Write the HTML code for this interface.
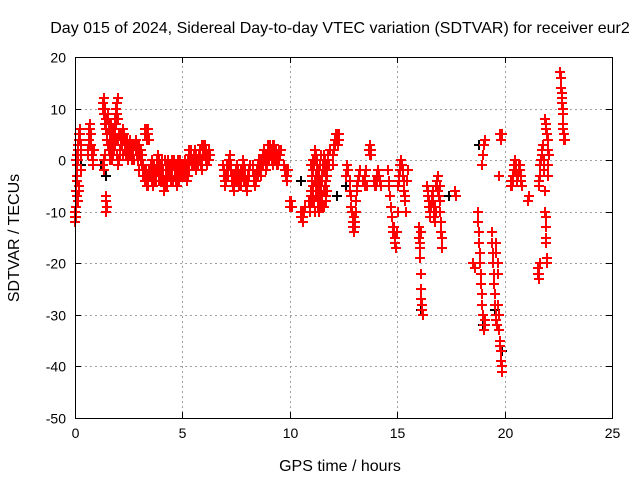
<!DOCTYPE html>
<html><head><meta charset="utf-8"><style>
html,body{margin:0;padding:0;background:#fff;}
svg{display:block;font-family:"Liberation Sans",sans-serif;}
</style></head><body>
<svg id="chart" width="640" height="480" viewBox="0 0 640 480" xmlns="http://www.w3.org/2000/svg">
<text x="340" y="33" font-size="16" text-anchor="middle">Day 015 of 2024, Sidereal Day-to-day VTEC variation (SDTVAR) for receiver eur2</text>
<text x="340" y="471" font-size="16" text-anchor="middle">GPS time / hours</text>
<text transform="translate(19,238) rotate(-90)" font-size="16" text-anchor="middle">SDTVAR / TECUs</text>
<g id="grid"></g>
<g id="ticks"></g>
<g id="black-series"></g>
<g id="red-series"></g>
<rect x="75.5" y="57.5" width="537" height="361" fill="none" stroke="#000" stroke-width="1" shape-rendering="crispEdges"/>
</svg>
<script>
const xTicks=[0,5,10,15,20,25];
const yTicks=[20,10,0,-10,-20,-30,-40,-50];
const redPoints=[
[0.0,-10],[0.02,-12],[0.04,-11],[0.06,-9],[0.08,-7],[0.1,-4],[0.06,0],[0.08,1],[0.12,0],[0.14,2],[0.16,3],[0.18,4],[0.2,5],[0.22,6],[0.25,5],[0.27,3],[0.29,1],[0.3,-2],[0.2,-6],[0.15,-8],
[0.6,2],[0.63,4],[0.66,6],[0.7,7],[0.73,5],[0.76,3],[0.8,1],[0.84,0],[0.88,2],
[1.3,11],[1.35,12],[1.4,10],[1.42,8],[1.45,6],[1.5,5],[1.3,-1],[1.35,-2],[1.45,-8],[1.48,-9],[1.42,-7],[1.55,9],[1.6,7],[1.65,5],[1.7,4],[1.75,3],[1.8,6],[1.85,8],[1.9,10],[1.95,11],[2.0,12],[1.9,4],[1.95,1],[2.0,-1],[2.05,0],[2.1,2],[1.6,2],[1.7,0],[2.15,5],[2.2,3],
[2.25,6],[2.3,5],[2.35,4],[2.4,2],[2.45,0],[2.5,3],[2.55,4],[2.6,1],[2.65,3],[2.7,2],[2.75,0],
[2.85,4],[2.9,3],[2.95,1],[3.0,-2],[3.05,2],[3.1,-1],[3.15,-3],[3.25,6],[3.3,5],[3.35,5],[3.4,6],[3.45,4],[3.3,-3],[3.35,-5],[3.4,-4],[3.45,-2],
[3.55,-1],[3.6,-3],[3.65,-5],[3.7,-4],[3.75,-2],[3.8,0],[3.85,1],[3.9,-1],[3.95,-3],[4.0,-2],[4.05,0],[4.1,-4],[4.15,-6],[4.2,-5],[4.25,-3],[4.3,-1],[4.35,0],[4.4,-2],[4.45,-4],[4.5,-3],[4.55,-1],[4.6,0],[4.65,-2],[4.7,-4],[4.75,-5],[4.8,-3],[4.85,-1],[4.9,0],[4.95,-2],[5.0,-3],
[5.05,-1],[5.1,0],[5.15,-2],[5.2,-4],[5.25,-3],[5.3,-1],[5.35,1],[5.4,2],[5.45,0],[5.5,-1],[5.55,1],[5.6,0],[5.65,-2],[5.7,-1],[5.75,1],[5.8,2],[5.85,0],[5.9,-2],[5.95,1],[6.0,3],[6.05,2],[6.1,0],[6.15,-1],[6.2,1],[6.25,2],
[6.9,-1],[6.95,-3],[7.0,-5],[7.05,-4],[7.1,-2],[7.15,0],[7.2,1],[7.25,-1],[7.3,-3],[7.35,-5],[7.4,-6],[7.45,-4],[7.5,-2],[7.55,-1],[7.6,-3],[7.65,-5],[7.7,-4],[7.75,-2],[7.8,0],[7.85,-1],[7.9,-3],[7.95,-5],[8.0,-6],[8.05,-4],[8.1,-2],[8.15,-1],
[8.3,-2],[8.35,-4],[8.4,-5],[8.45,-3],[8.5,-1],[8.55,0],[8.6,-2],[8.65,-3],[8.7,-1],[8.75,1],[8.8,2],[8.85,0],[8.9,-2],[8.95,-1],[9.0,1],[9.05,2],[9.1,3],[9.15,1],[9.2,-1],[9.25,0],[9.3,2],[9.35,1],[9.4,-1],[9.45,0],[9.5,2],[9.55,1],
[9.75,-1],[9.8,-3],[9.85,-4],[9.9,-2],
[10.0,-8],[10.05,-9],[10.1,-9],[10.5,-10],[10.55,-11],[10.6,-12],[10.65,-10],[10.7,-9],
[10.9,-8],[10.95,-10],[11.0,-6],[11.05,-3],[11.1,0],[11.15,2],[11.2,1],[11.25,-2],[11.3,-5],[11.35,-8],[11.4,-9],[11.45,-6],[11.5,-3],[11.55,-1],[11.6,1],[11.65,-2],[11.7,-4],[11.1,-5],[11.2,-7],[11.3,-2],[11.4,-4],[11.5,-7],[11.6,-9],[11.7,-8],[11.75,-3],[11.8,0],[11.85,2],[11.0,-1],[11.25,0],[11.45,1],
[12.0,-1],[12.05,2],[12.1,4],[12.15,5],[12.2,5],[12.25,3],[12.3,4],
[12.6,-3],[12.65,-1],[12.7,-2],[12.8,-4],[12.85,-7],[12.9,-10],[12.95,-13],[13.0,-14],[13.05,-12],[13.1,-8],[13.15,-5],[13.2,-3],[13.25,-2],
[13.4,-4],[13.5,-3],[13.55,-2],[13.6,-5],[13.7,2],[13.75,3],[13.8,1],[13.9,-4],[14.0,-5],[14.05,-3],[14.1,-2],[14.2,-4],[14.25,-5],
[14.55,-2],[14.6,-5],[14.7,-9],[14.8,-13],[14.85,-14],[14.9,-15],[14.95,-17],[15.0,-14],[15.05,-5],[15.1,-3],[15.15,-1],[15.2,0],[15.25,-2],[15.3,-4],[15.35,-7],[15.4,-10],[15.45,-4],[15.5,-2],
[16.0,-13],[16.05,-16],[16.08,-19],[16.1,-22],[16.12,-25],[16.15,-28],[16.18,-30],[16.1,-14],
[16.4,-5],[16.45,-7],[16.5,-9],[16.55,-11],[16.6,-8],[16.65,-6],[16.7,-9],[16.75,-12],[16.8,-10],[16.85,-4],[16.9,-3],[16.95,-7],[17.0,-10],[17.05,-14],[17.1,-17],[17.0,-5],
[17.7,-6],[17.75,-7],
[18.55,-20],[18.6,-21],
[18.75,-10],[18.8,-14],[18.85,-18],[18.9,-22],[18.95,-26],[19.0,-30],[19.05,-33],[19.1,-31],[18.95,-1],[19.0,1],[19.05,3],[19.1,4],
[19.4,-14],[19.45,-18],[19.5,-22],[19.55,-26],[19.6,-30],[19.65,-32],[19.7,-28],[19.75,-33],[19.8,-36],[19.85,-39],[19.9,-41],[19.6,-16],[19.7,-20],[19.8,5],[19.85,4],[19.9,5],[19.75,-3],
[20.3,-4],[20.35,-5],[20.4,-3],[20.45,-1],[20.5,0],[20.55,-2],[20.6,-4],[20.65,-2],[20.7,-1],[20.75,-3],[20.8,-5],[21.1,-8],[21.15,-7],
[21.55,-22],[21.6,-23],[21.65,-20],[21.6,-5],[21.65,-3],[21.7,0],[21.75,2],[21.8,3],[21.85,-2],[21.9,-10],[21.92,-13],[21.95,-16],[21.98,-19],[21.9,8],[21.95,6],[22.0,4],[22.05,1],[22.0,-3],
[22.6,17],[22.62,16],[22.65,13],[22.68,11],[22.7,9],[22.72,6],[22.75,4],[22.78,5]
];
const redPointsDense=[
[0.0,-11],[0.03,-9],[0.05,-6],[0.07,-3],[0.1,-1],[0.13,1],[0.17,-5],[0.23,4],[0.26,2],
[0.62,1],[0.68,3],[0.72,6],[0.78,2],[0.82,-1],
[1.32,10],[1.37,9],[1.4,7],[1.47,4],[1.52,3],[1.57,6],[1.62,4],[1.67,2],[1.72,6],[1.77,5],[1.82,4],[1.87,6],[1.92,7],[1.97,9],[2.02,8],[2.07,5],[2.12,3],[1.52,8],[1.57,2],[1.62,0],[1.67,7],[1.72,3],[1.77,1],[1.82,2],[1.87,3],[1.5,-9],[1.46,-10],[1.36,0],[1.4,1],[2.02,4],[2.08,1],[2.17,4],[2.22,1],
[2.27,4],[2.32,2],[2.37,1],[2.42,4],[2.47,2],[2.52,1],[2.57,2],[2.62,3],[2.67,0],[2.72,1],[2.77,3],[2.82,2],[2.87,1],[2.92,0],[2.97,3],[3.02,1],[3.07,0],[3.12,1],[3.17,-1],[3.22,-2],[3.27,5],[3.32,6],[3.37,4],[3.42,5],[3.27,-4],[3.32,-2],[3.37,-3],[3.42,-5],[3.47,-3],
[3.52,-2],[3.57,-4],[3.62,-2],[3.67,-1],[3.72,-3],[3.77,-4],[3.82,-1],[3.87,-2],[3.92,0],[3.97,-1],[4.02,-4],[4.07,-3],[4.12,-2],[4.17,-4],[4.22,-2],[4.27,-5],[4.32,-3],[4.37,-1],[4.42,-3],[4.47,-1],[4.52,-2],[4.57,-4],[4.62,-1],[4.67,-3],[4.72,-1],[4.77,-2],[4.82,-4],[4.87,-2],[4.92,-3],[4.97,-1],[3.6,0],[3.9,-4],[4.2,0],[4.5,0],[4.8,0],
[5.02,-2],[5.07,-3],[5.12,-1],[5.17,-3],[5.22,-1],[5.27,0],[5.32,-2],[5.37,0],[5.42,1],[5.47,-1],[5.52,0],[5.57,-1],[5.62,1],[5.67,0],[5.72,-1],[5.77,0],[5.82,1],[5.87,-1],[5.92,0],[5.97,2],[6.02,1],[6.07,3],[6.12,2],[6.17,0],[6.22,0],[6.27,1],[5.3,2],[5.6,2],[5.9,3],
[6.92,-2],[6.97,-4],[7.02,-3],[7.07,-1],[7.12,-3],[7.17,-1],[7.22,0],[7.27,-2],[7.32,-4],[7.37,-3],[7.42,-5],[7.47,-3],[7.52,-4],[7.57,-2],[7.62,-4],[7.67,-3],[7.72,-5],[7.77,-3],[7.82,-2],[7.87,-4],[7.92,-2],[7.97,-4],[8.02,-5],[8.07,-3],[8.12,-3],
[8.27,-1],[8.32,-3],[8.37,-3],[8.42,-4],[8.47,-2],[8.52,-3],[8.57,-1],[8.62,-1],[8.67,0],[8.72,0],[8.77,-1],[8.82,1],[8.87,1],[8.92,0],[8.97,2],[9.02,0],[9.07,1],[9.12,2],[9.17,0],[9.22,1],[9.27,3],[9.32,0],[9.37,2],[9.42,1],[9.47,-1],[9.52,0],[9.57,2],[9.0,3],[9.2,3],
[9.77,-2],[9.82,-2],[9.87,-3],[10.02,-9],[10.07,-8],[10.52,-11],[10.57,-10],[10.62,-11],
[10.92,-9],[10.97,-7],[11.02,-4],[11.07,-2],[11.12,-1],[11.17,0],[11.22,-3],[11.27,-1],[11.32,-4],[11.37,-6],[11.42,-7],[11.47,-5],[11.52,-4],[11.57,-2],[11.62,0],[11.67,-1],[11.72,-6],[11.02,-8],[11.07,-6],[11.12,-8],[11.17,-4],[11.22,-5],[11.27,-7],[11.32,-9],[11.37,-3],[11.42,-1],[11.47,-8],[11.52,-9],[11.57,-6],[11.62,-5],[11.67,-7],[11.72,-2],[11.77,1],[11.82,-1],[11.15,-10],[11.35,-10],
[12.02,1],[12.07,3],[12.12,3],[12.17,4],[12.22,4],[12.27,5],
[12.82,-6],[12.87,-9],[12.92,-12],[12.97,-11],[13.02,-13],[13.07,-10],[13.12,-6],[13.17,-4],[13.45,-4],[13.52,-5],[13.72,1],[13.77,2],[13.95,-5],[14.02,-4],[14.07,-4],[14.15,-3],
[14.62,-4],[14.67,-7],[14.75,-11],[14.82,-14],[14.87,-13],[14.92,-16],[15.02,-10],[15.07,-4],[15.12,-2],[15.17,0],[15.22,-1],[15.27,-3],[15.32,-6],[15.37,-8],
[16.02,-15],[16.07,-17],[16.13,-27],[16.16,-29],[16.42,-6],[16.47,-8],[16.52,-10],[16.57,-9],[16.62,-7],[16.67,-8],[16.72,-11],[16.77,-9],[16.82,-5],[16.87,-4],[16.92,-6],[16.97,-8],[17.02,-12],[17.07,-15],
[18.77,-12],[18.82,-16],[18.87,-20],[18.92,-24],[18.97,-28],[19.02,-32],[19.07,-32],[19.42,-16],[19.47,-20],[19.52,-24],[19.57,-28],[19.62,-31],[19.72,-30],[19.77,-35],[19.82,-37],[19.87,-40],[19.62,-18],[19.67,-22],[19.82,4],[19.87,5],
[20.32,-5],[20.37,-4],[20.42,-2],[20.47,-1],[20.52,-1],[20.57,-3],[20.62,-3],[20.67,-1],[20.72,-2],[20.77,-4],
[21.57,-21],[21.62,-22],[21.62,-4],[21.67,-1],[21.72,1],[21.77,3],[21.82,0],[21.87,-6],[21.91,-11],[21.94,-15],[21.97,-20],[21.92,7],[21.97,5],[22.02,2],[22.03,-1],
[22.61,16],[22.64,14],[22.67,12],[22.7,10],[22.73,7],[22.76,5],[22.8,4]
];
const blackPoints=[[0.3,-1],[1.2,-1],[1.45,-3],[10.5,-4],[12.2,-7],[12.6,-5],[16.1,-29],[17.4,-7],[18.8,3],[19.0,-32],[19.55,-29],[19.9,-37],[21.7,0],[22.7,7]];

const X0=75,X1=612,Y0=418,Y1=57,XMIN=0,XMAX=25,YMIN=-50,YMAX=20;
const xs=v=>X0+(v-XMIN)/(XMAX-XMIN)*(X1-X0);
const ys=v=>Y0-(v-YMIN)/(YMAX-YMIN)*(Y0-Y1);
const NS="http://www.w3.org/2000/svg";
function mk(tag,attrs,parent){const e=document.createElementNS(NS,tag);for(const k in attrs)e.setAttribute(k,attrs[k]);parent.appendChild(e);return e;}
const grid=document.getElementById('grid'),ticks=document.getElementById('ticks');
xTicks.forEach(t=>{const x=Math.round(xs(t))+0.5;
 if(t>XMIN&&t<XMAX){const g=mk('line',{x1:x,x2:x,y1:Y0,y2:Y1,stroke:'#a0a0a0','stroke-dasharray':'2,3','shape-rendering':'crispEdges'},grid);
 
 }
 mk('line',{x1:x,x2:x,y1:Y0,y2:Y0-6,stroke:'#000','shape-rendering':'crispEdges'},ticks);mk('line',{x1:x,x2:x,y1:Y1,y2:Y1+6,stroke:'#000','shape-rendering':'crispEdges'},ticks);
 const l=mk('text',{x:x,y:Y0+20,'font-size':14,'text-anchor':'middle'},ticks);l.textContent=t;
 
 
});
yTicks.forEach(t=>{const y=Math.round(ys(t))+0.5;
 if(t>YMIN&&t<YMAX){const g=mk('line',{x1:X0,x2:X1,y1:y,y2:y,stroke:'#a0a0a0','stroke-dasharray':'2,3','shape-rendering':'crispEdges'},grid);
 
 }
 mk('line',{x1:X0,x2:X0+6,y1:y,y2:y,stroke:'#000','shape-rendering':'crispEdges'},ticks);mk('line',{x1:X1,x2:X1-6,y1:y,y2:y,stroke:'#000','shape-rendering':'crispEdges'},ticks);
 const l=mk('text',{x:X0-9,y:y+5,'font-size':14,'text-anchor':'end'},ticks);l.textContent=t;
 
 
});
function plus(arr,gid,color,name){const g=document.getElementById(gid);let d='';
 arr.forEach(p=>{const x=Math.round(xs(p[0])),y=Math.round(ys(p[1]));d+=`M${x-5},${y}h10M${x},${y-5}v10`;});
 const path=mk('path',{d:d,stroke:color,'stroke-width':2,fill:'none','shape-rendering':'crispEdges'},g);
 
 
}
plus(blackPoints,'black-series','#000','black-markers');
plus(redPoints,'red-series','#ff0000','red-markers');
plus(redPointsDense,'red-series','#ff0000','red-markers-dense');
</script>
</body></html>
